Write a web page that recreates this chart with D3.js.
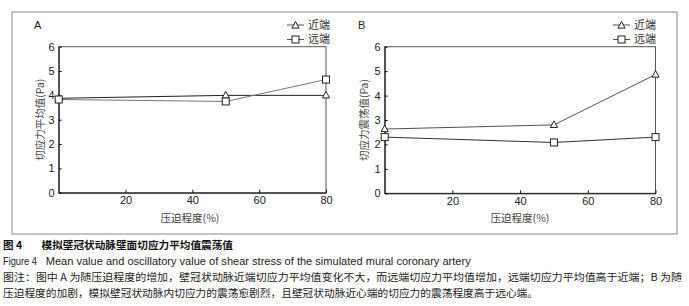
<!DOCTYPE html>
<html>
<head>
<meta charset="utf-8">
<script src="https://cdn.jsdelivr.net/npm/d3@7"></script>
<style>
  body { margin: 0; background: #fff; }
  svg { display: block; font-family: "Liberation Sans", Arial, "Noto Sans CJK SC", sans-serif; }
  .cjk { font-family: "Noto Sans CJK SC", sans-serif; }
  .axis text { font-size: 11px; fill: #222; font-family: "Liberation Sans", Arial, sans-serif; }
</style>
</head>
<body>
<svg id="chart" width="689" height="306"></svg>
<script>
// data
const pressure = [0, 50, 80];
const meanNear = [3.88, 4.0, 4.0];
const meanFar = [3.83, 3.75, 4.65];
const oscNear = [2.63, 2.8, 4.86];
const oscFar = [2.3, 2.08, 2.3];
const xTicks = [20, 40, 60, 80];
const yTicks = [0, 1, 2, 3, 4, 5, 6];
const seriesNames = ["近端", "远端"];

const svg = d3.select("#chart");

// outer frame
svg.append("rect")
    .attr("x", 12).attr("y", 12)
    .attr("width", 665).attr("height", 222)
    .attr("fill", "none")
    .attr("stroke", "#888").attr("stroke-width", 1);

function drawPanel(opt) {
    const x = d3.scaleLinear().domain([0, 80]).range([opt.left, opt.right]);
    const y = d3.scaleLinear().domain([0, 6]).range([opt.bottom, opt.top]);
    const g = svg.append("g");

    // plot box top/right
    g.append("rect")
        .attr("x", opt.left).attr("y", opt.top)
        .attr("width", opt.right - opt.left).attr("height", opt.bottom - opt.top)
        .attr("fill", "none").attr("stroke", "#555");

    const yAxis = d3.axisLeft(y).tickValues(yTicks).tickFormat(d3.format("d"))
        .tickSizeInner(-3).tickSizeOuter(0).tickPadding(4);
    const xAxis = d3.axisBottom(x).tickValues(xTicks).tickFormat(d3.format("d"))
        .tickSizeInner(-3).tickSizeOuter(0).tickPadding(4);

    g.append("g").attr("class", "axis")
        .attr("transform", `translate(${opt.left},0)`)
        .call(yAxis)
        .call(s => s.selectAll("line, path").attr("stroke", "#111"));
    g.append("g").attr("class", "axis")
        .attr("transform", `translate(0,${opt.bottom})`)
        .call(xAxis)
        .call(s => s.selectAll("line, path").attr("stroke", "#111"));

    // panel letter
    g.append("text").attr("x", opt.labelX).attr("y", 29)
        .attr("text-anchor", "middle").attr("font-size", 11).attr("fill", "#222")
        .text(opt.label);

    // axis titles
    g.append("text").attr("class", "cjk")
        .attr("transform", `translate(${opt.ytitleX},${(opt.top + opt.bottom) / 2}) rotate(-90)`)
        .attr("text-anchor", "middle").attr("dy", "0.35em")
        .attr("font-size", 10.5).attr("fill", "#444")
        .text(opt.ytitle);
    g.append("text").attr("class", "cjk")
        .attr("x", opt.xtitleX).attr("y", 218).attr("dy", "0.35em")
        .attr("text-anchor", "middle")
        .attr("font-size", 10.5).attr("fill", "#444")
        .text("压迫程度(%)");

    const line = d3.line().x((d, i) => x(pressure[i])).y(d => y(d));
    const sets = [
        { values: opt.near, color: opt.nearColor, shape: "tri" },
        { values: opt.far, color: opt.farColor, shape: "sq" }
    ];

    function marker(sel, shape, cx, cy) {
        if (shape === "tri") {
            sel.append("path")
                .attr("d", `M${cx},${cy - 4}L${cx + 3.6},${cy + 2.6}L${cx - 3.6},${cy + 2.6}Z`)
                .attr("fill", "#fff").attr("stroke", "#222").attr("stroke-width", 1);
        } else {
            sel.append("rect")
                .attr("x", cx - 3.5).attr("y", cy - 3.5)
                .attr("width", 7).attr("height", 7)
                .attr("fill", "#fff").attr("stroke", "#222").attr("stroke-width", 1);
        }
    }

    sets.forEach(s => {
        g.append("path").datum(s.values)
            .attr("d", line)
            .attr("fill", "none").attr("stroke", s.color).attr("stroke-width", 1);
    });
    sets.forEach(s => {
        s.values.forEach((v, i) => marker(g, s.shape, x(pressure[i]), y(v)));
    });

    // legend
    seriesNames.forEach((name, i) => {
        const ly = 25 + i * 14.5;
        g.append("line")
            .attr("x1", opt.legendX).attr("x2", opt.legendX + 17)
            .attr("y1", ly).attr("y2", ly)
            .attr("stroke", "#555");
        marker(g, sets[i].shape, opt.legendX + 8.5, ly + (i === 0 ? 0.5 : 0));
        g.append("text").attr("class", "cjk")
            .attr("x", opt.legendX + 21).attr("y", ly).attr("dy", "0.35em")
            .attr("font-size", 11).attr("fill", "#333")
            .text(name);
    });
}

drawPanel({
    left: 58.7, right: 326, top: 46.7, bottom: 192.7,
    near: meanNear, far: meanFar,
    nearColor: "#222", farColor: "#777",
    label: "A", labelX: 37.7,
    ytitle: "切应力平均值(Pa)", ytitleX: 40, xtitleX: 190,
    legendX: 287
});

drawPanel({
    left: 384.7, right: 655.5, top: 46.7, bottom: 193.3,
    near: oscNear, far: oscFar,
    nearColor: "#555", farColor: "#333",
    label: "B", labelX: 361.7,
    ytitle: "切应力震荡值(Pa)", ytitleX: 364, xtitleX: 520,
    legendX: 613
});

// caption
const cap = svg.append("g");
cap.append("text").attr("class", "cjk")
    .attr("x", 3).attr("y", 245).attr("dy", "0.35em")
    .attr("font-size", 10.5).attr("font-weight", "bold").attr("fill", "#111")
    .text("图 4");
cap.append("text").attr("class", "cjk")
    .attr("x", 41.5).attr("y", 245).attr("dy", "0.35em")
    .attr("font-size", 10.5).attr("font-weight", "bold").attr("fill", "#111")
    .attr("textLength", 191.5).attr("lengthAdjust", "spacingAndGlyphs")
    .text("模拟壁冠状动脉壁面切应力平均值震荡值");
cap.append("text")
    .attr("x", 3).attr("y", 261).attr("dy", "0.35em")
    .attr("font-size", 10.5).attr("fill", "#222")
    .attr("textLength", 34).attr("lengthAdjust", "spacingAndGlyphs")
    .text("Figure 4");
cap.append("text")
    .attr("x", 45.7).attr("y", 261).attr("dy", "0.35em")
    .attr("font-size", 10.5).attr("fill", "#222")
    .attr("textLength", 425).attr("lengthAdjust", "spacingAndGlyphs")
    .text("Mean value and oscillatory value of shear stress of the simulated mural coronary artery");
cap.append("text").attr("class", "cjk")
    .attr("x", 3).attr("y", 277).attr("dy", "0.35em")
    .attr("font-size", 10.5).attr("fill", "#222")
    .attr("textLength", 679).attr("lengthAdjust", "spacingAndGlyphs")
    .text("图注：图中 A 为随压迫程度的增加，壁冠状动脉近端切应力平均值变化不大，而远端切应力平均值增加，远端切应力平均值高于近端；B 为随");
cap.append("text").attr("class", "cjk")
    .attr("x", 3).attr("y", 293).attr("dy", "0.35em")
    .attr("font-size", 10.5).attr("fill", "#222")
    .attr("textLength", 535).attr("lengthAdjust", "spacingAndGlyphs")
    .text("压迫程度的加剧，模拟壁冠状动脉内切应力的震荡愈剧烈，且壁冠状动脉近心端的切应力的震荡程度高于远心端。");
</script>
</body>
</html>
